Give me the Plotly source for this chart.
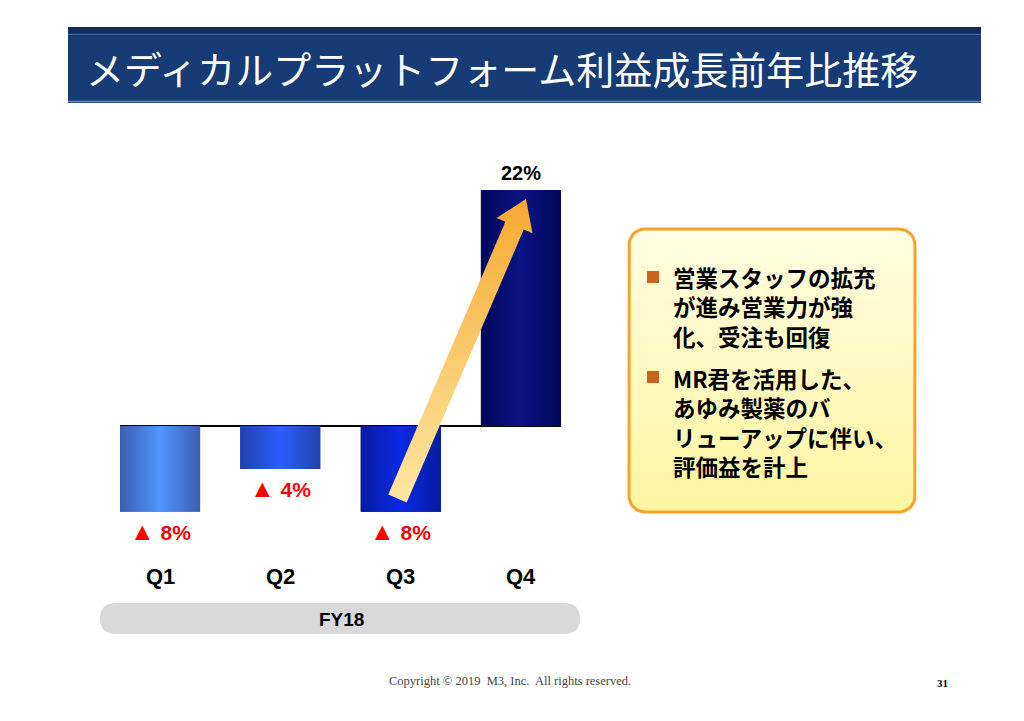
import numpy as np
import plotly.graph_objects as go

# ---------------- data ----------------
quarters = ["Q1", "Q2", "Q3", "Q4"]
growth_pct = [-8, -4, -8, 22]
period_label = "FY18"
title_text = "メディカルプラットフォーム利益成長前年比推移"
bullet_lines = [
    ["営業スタッフの拡充", "が進み営業力が強", "化、受注も回復"],
    ["MR君を活用した、", "あゆみ製薬のバ", "リューアップに伴い、", "評価益を計上"],
]
footer_text = "Copyright © 2019  M3, Inc.  All rights reserved."
page_no = "31"

# ---------------- styles ----------------
bar_edge = ["#3a60b0", "#2042aa", "#061ca0", "#00075a"]
bar_mid = ["#5294ff", "#2c5eff", "#0a2ae6", "#0a1484"]
W, H = 1024, 721
JP = "Noto Sans CJK JP"
SANS = "Liberation Sans, Arial"

px_per_pct = 236 / 22.0
zero_px = 426
y_lo, y_hi = -12, 24
bot_px = zero_px - y_lo * px_per_pct
top_px = zero_px - y_hi * px_per_pct
bar_w = 2 / 3


def px(x):
    return x / W


def py(y):
    return 1 - y / H


fig = go.Figure()

# bars (library bars)
fig.add_trace(go.Bar(
    x=list(range(len(quarters))), y=growth_pct, width=bar_w,
    marker=dict(color=bar_mid, line=dict(width=0)),
    hoverinfo="skip", showlegend=False,
))
# gradient overlay on each bar, built from the same values
for i, v in enumerate(growth_pct):
    xs = [i - bar_w / 2, i + bar_w / 2, i + bar_w / 2, i - bar_w / 2, i - bar_w / 2]
    ys = [0, 0, v, v, 0]
    fig.add_trace(go.Scatter(
        x=xs, y=ys, mode="lines", fill="toself", line=dict(width=0),
        fillgradient=dict(type="horizontal",
                          colorscale=[[0, bar_edge[i]], [0.5, bar_mid[i]], [1, bar_edge[i]]]),
        hoverinfo="skip", showlegend=False,
    ))

# value labels
annotations = []
for i, v in enumerate(growth_pct):
    if v >= 0:
        annotations.append(dict(x=i, y=v, xref="x", yref="y", text=f"<b>{v}%</b>",
                                showarrow=False, yshift=17, xanchor="center", yanchor="middle",
                                font=dict(family=SANS, size=20, color="black")))
    else:
        annotations.append(dict(x=i, y=v, xref="x", yref="y",
                                text=f"<span style='font-size:25px'>▲</span><b> {abs(v)}%</b>",
                                showarrow=False, yshift=-19, xanchor="center", yanchor="middle",
                                font=dict(family=SANS, size=21, color="#ff0000")))
# quarter labels
for i, q in enumerate(quarters):
    annotations.append(dict(x=i, y=py(576), xref="x", yref="paper", text=f"<b>{q}</b>",
                            showarrow=False, xanchor="center", yanchor="middle",
                            font=dict(family=SANS, size=22, color="black")))
# FY label
annotations.append(dict(x=px(341), y=py(619), xref="paper", yref="paper",
                        text=f"<b>{period_label}</b>", showarrow=False,
                        xanchor="center", yanchor="middle",
                        font=dict(family=SANS, size=19, color="black")))
# title
annotations.append(dict(x=px(84), y=py(68), xref="paper", yref="paper", xanchor="left",
                        yanchor="middle", text=title_text, showarrow=False,
                        font=dict(family=JP, size=38, color="white")))
# bullet text
para_y = [306.5, 421.5]
for para, yy in zip(bullet_lines, para_y):
    annotations.append(dict(x=px(671), y=py(yy), xref="paper", yref="paper",
                            xanchor="left", yanchor="middle", align="left",
                            text="<br>".join(f"<b>{t}</b>" for t in para), showarrow=False,
                            font=dict(family=JP, size=22.5, color="black")))
# footer
annotations.append(dict(x=px(510), y=py(681), xref="paper", yref="paper", text=footer_text,
                        showarrow=False, xanchor="center", yanchor="middle",
                        font=dict(family="Liberation Serif", size=12.5, color="#444444")))
annotations.append(dict(x=px(942), y=py(683), xref="paper", yref="paper", text=f"<b>{page_no}</b>",
                        showarrow=False, xanchor="center", yanchor="middle",
                        font=dict(family="Liberation Serif", size=11, color="black")))

# ---------------- decorative overlay (pixel space) ----------------
def rounded_rect(x0, y0, x1, y1, r, n=10):
    pts = []
    corners = [(x1 - r, y0 + r, -90, 0), (x1 - r, y1 - r, 0, 90),
               (x0 + r, y1 - r, 90, 180), (x0 + r, y0 + r, 180, 270)]
    for cx, cy, a0, a1 in corners:
        for a in np.linspace(np.radians(a0), np.radians(a1), n):
            pts.append((cx + r * np.cos(a), cy + r * np.sin(a)))
    pts.append(pts[0])
    return [p[0] for p in pts], [p[1] for p in pts]


bx, by = rounded_rect(629, 229, 915, 512, 16)
fig.add_trace(go.Scatter(
    x=bx, y=by, xaxis="x2", yaxis="y2", mode="lines", fill="toself",
    line=dict(color="#f9a12c", width=3),
    fillgradient=dict(type="vertical", colorscale=[[0, "#fff5a0"], [1, "#fffde2"]]),
    hoverinfo="skip", showlegend=False,
))

# arrow
T = np.array([397.5, 498.5])
P = np.array([526.0, 199.0])
u = (P - T) / np.linalg.norm(P - T)
n = np.array([-u[1], u[0]])
B = P - 29 * u
arrow_pts = [T + 10 * n, B + 10 * n, B + 19.5 * n, P, B - 19.5 * n, B - 10 * n, T - 10 * n, T + 10 * n]
fig.add_trace(go.Scatter(
    x=[p[0] for p in arrow_pts], y=[p[1] for p in arrow_pts], xaxis="x2", yaxis="y2",
    mode="lines", fill="toself", line=dict(width=0),
    fillgradient=dict(type="vertical", colorscale=[[0, "#fde8a2"], [1, "#f8a933"]]),
    hoverinfo="skip", showlegend=False,
))

# ---------------- shapes ----------------
shapes = [
    dict(type="rect", xref="paper", yref="paper", x0=px(68), x1=px(981), y0=py(103), y1=py(27),
         fillcolor="#173b75", line=dict(width=0), layer="below"),
    dict(type="rect", xref="paper", yref="paper", x0=px(68), x1=px(981), y0=py(33), y1=py(27),
         fillcolor="#112b5a", line=dict(width=0), layer="below"),
    dict(type="line", xref="paper", yref="paper", x0=px(68), x1=px(981), y0=py(34.5), y1=py(34.5),
         line=dict(color="#3d64a3", width=1), layer="below"),
    dict(type="line", xref="paper", yref="paper", x0=px(68), x1=px(981), y0=py(101.5), y1=py(101.5),
         line=dict(color="#6f8cbf", width=1.5), layer="below"),
    dict(type="path", xref="paper", yref="paper", layer="below",
         path=(f"M {px(116)},{py(603)} L {px(564)},{py(603)} "
               f"Q {px(580)},{py(603)} {px(580)},{py(618.5)} "
               f"Q {px(580)},{py(634)} {px(564)},{py(634)} "
               f"L {px(116)},{py(634)} Q {px(100)},{py(634)} {px(100)},{py(618.5)} "
               f"Q {px(100)},{py(603)} {px(116)},{py(603)} Z"),
         fillcolor="#d9d9d9", line=dict(width=0)),
]
for yy in (277, 377):
    shapes.append(dict(type="rect", xref="paper", yref="paper", x0=px(647), x1=px(659),
                       y0=py(yy + 6), y1=py(yy - 6), fillcolor="#c8641e", line=dict(width=0)))

fig.update_layout(
    width=W, height=H, margin=dict(l=0, r=0, t=0, b=0),
    paper_bgcolor="white", plot_bgcolor="rgba(0,0,0,0)",
    showlegend=False, bargap=0,
    xaxis=dict(domain=[px(120), px(561)], range=[-bar_w / 2, 3 + bar_w / 2],
               visible=False, fixedrange=True),
    yaxis=dict(domain=[py(bot_px), py(top_px)], range=[y_lo, y_hi], showgrid=False,
               showticklabels=False, zeroline=True, zerolinecolor="black", zerolinewidth=2,
               showline=False, ticks="", fixedrange=True),
    xaxis2=dict(domain=[0, 1], range=[0, W], visible=False, anchor="y2", fixedrange=True),
    yaxis2=dict(domain=[0, 1], range=[H, 0], visible=False, anchor="x2", fixedrange=True),
    annotations=annotations, shapes=shapes,
)

fig.write_html("out.html")
